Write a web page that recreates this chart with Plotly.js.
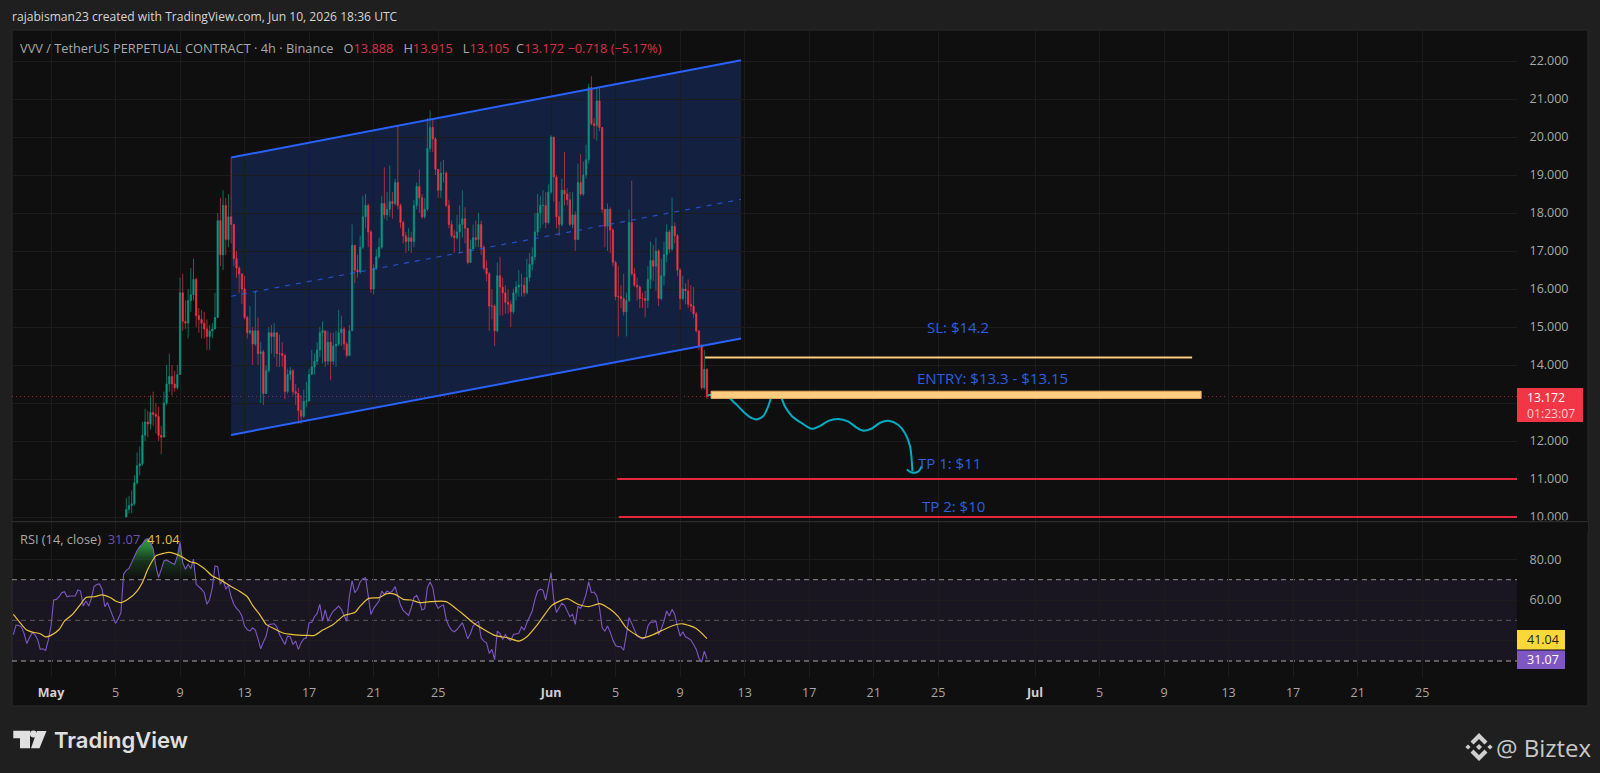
<!DOCTYPE html>
<html>
<head>
<meta charset="utf-8">
<script src="https://cdn.plot.ly/plotly-3.0.1.min.js"></script>
<style>html,body{margin:0;padding:0;background:#1f1f1f;overflow:hidden}#chart{width:1600px;height:773px}</style>
</head>
<body>
<div id="chart"></div>
<script>
// ---------- data ----------
const firstBarDay = 4 + 16/24;          // days after May 1, 2026 00:00 UTC
const firstOpen = 10.0;
const closes = [
10.2,10.3,10.35,10.9,11.35,11.4,12.15,12.5,12.45,12.75,
12.7,12.65,12.15,12.1,13.0,13.5,13.7,13.5,13.4,13.75,
15.9,15.15,15.1,15.7,15.85,16.25,15.3,15.2,15.1,14.95,
14.75,14.9,14.95,15.25,17.8,16.9,18.2,17.3,17.9,17.7,
16.8,16.55,16.4,16.0,15.25,14.85,14.9,14.55,14.9,14.3,
14.35,13.25,13.85,14.85,14.75,14.85,14.3,14.3,14.25,13.3,
13.75,13.85,13.3,13.25,12.8,12.65,13.05,13.05,13.75,13.95,
14.1,14.4,14.85,14.9,14.1,14.6,14.1,14.5,14.55,14.85,
14.95,14.55,14.25,14.9,17.15,16.5,16.45,17.1,17.9,18.2,
17.5,16.0,16.55,16.85,17.1,18.25,17.95,18.1,18.3,18.25,
18.8,18.2,17.75,17.4,17.25,17.35,17.25,18.2,18.7,18.4,
17.9,18.1,19.7,20.25,19.95,19.15,18.6,19.05,19.05,18.2,
17.7,17.4,17.35,17.5,17.7,17.85,17.6,16.7,17.05,17.35,
17.3,17.7,17.1,16.55,16.4,15.55,15.55,14.9,16.35,16.05,
15.9,15.65,15.6,15.4,15.9,16.05,16.1,16.1,15.9,16.3,
16.65,16.85,17.5,18.0,18.2,18.2,17.75,18.55,20.0,18.95,
17.9,17.7,18.6,18.5,18.35,17.7,17.95,17.3,18.8,18.5,
19.0,19.4,21.3,20.35,20.3,20.95,20.25,18.1,17.65,18.1,
17.55,16.7,15.8,15.8,15.75,15.4,15.7,17.75,16.4,16.1,
16.05,15.75,15.75,15.7,16.25,16.75,16.6,17.0,15.75,16.35,
16.9,17.5,17.05,17.65,17.4,16.5,15.75,16.0,15.95,15.6,
15.55,15.35,14.9,14.5,13.4,13.888,13.172];
const highs = [
10.5,10.55,10.7,11.1,11.7,11.85,12.5,12.85,12.8,13.2,
13.3,13.0,12.9,12.4,13.3,14.0,14.3,14.0,13.85,14.0,
16.3,16.4,15.7,16.0,16.55,16.8,16.3,15.5,15.45,15.4,
15.2,15.05,15.1,15.9,18.0,18.4,18.6,18.4,18.5,19.45,
17.7,17.0,16.6,16.4,16.35,15.3,15.55,15.0,15.95,15.25,
14.6,14.4,14.0,15.0,15.05,15.1,14.8,14.8,14.6,14.3,
13.9,13.95,13.9,13.5,13.4,13.2,13.35,13.55,13.9,14.4,
14.3,14.6,15.0,15.15,14.9,14.9,14.85,14.85,14.9,15.45,
15.3,15.0,14.6,15.05,17.7,17.15,16.9,17.4,18.45,18.5,
18.25,17.55,16.65,17.05,17.35,18.45,19.2,18.55,19.25,18.55,
18.9,20.3,18.25,17.8,17.5,17.6,17.5,18.35,18.8,19.15,
18.5,18.4,20.5,20.7,20.5,20.0,19.15,19.35,19.4,19.1,
18.35,17.8,17.55,17.95,18.2,18.6,18.15,17.6,17.3,17.7,
17.8,18.0,17.8,17.15,16.75,16.45,16.0,15.6,16.7,16.85,
16.3,16.1,16.0,15.7,16.0,16.2,16.5,16.4,16.3,16.8,
16.95,17.1,18.0,18.5,18.45,18.6,18.55,18.75,20.05,20.0,
19.0,18.3,18.9,19.6,18.65,18.55,18.55,18.05,19.3,19.55,
19.35,19.8,21.4,21.6,20.5,21.3,21.3,20.25,18.1,18.25,
18.15,17.6,16.75,16.6,16.1,16.4,15.9,18.1,18.85,16.55,
16.3,16.1,15.9,15.95,16.6,17.25,17.15,17.35,17.05,16.8,
17.25,17.7,17.55,18.4,17.75,17.45,16.55,16.35,16.15,16.25,
16.1,16.05,15.4,14.9,14.55,14.4,13.915];
const lows = [
10.0,10.1,10.1,10.3,10.85,11.1,11.35,12.0,12.1,12.3,
12.4,12.2,12.0,11.65,12.1,12.95,13.3,13.2,13.3,13.35,
13.75,14.9,14.95,14.7,15.4,15.7,15.0,14.85,14.7,14.7,
14.4,14.4,14.7,14.95,15.25,16.6,16.5,16.9,17.1,17.2,
16.6,16.3,15.9,15.6,15.2,14.7,14.8,14.0,14.5,14.0,
13.0,12.95,13.25,13.8,14.3,14.2,13.95,13.95,13.95,13.1,
13.25,13.6,13.2,12.95,12.45,12.45,12.6,12.9,13.05,13.75,
13.75,14.0,14.2,14.05,13.95,14.0,13.6,14.0,13.95,14.5,
14.5,14.4,14.2,14.25,14.9,16.15,16.3,16.4,17.05,17.6,
17.1,15.9,15.85,16.5,16.8,17.05,17.85,17.8,17.9,17.85,
18.2,18.1,17.6,17.2,16.95,17.0,16.95,17.1,18.1,18.0,
17.85,17.85,18.05,19.6,19.6,19.0,18.4,18.4,18.8,18.15,
17.6,17.35,16.95,17.3,16.95,17.35,17.2,16.65,16.7,17.05,
17.1,17.1,16.9,16.5,16.2,14.9,15.2,14.5,14.85,15.3,
15.3,15.35,15.35,15.0,15.35,15.7,15.8,15.8,15.8,15.85,
16.2,16.5,16.75,17.4,17.6,17.7,17.6,17.7,18.5,18.3,
17.6,17.4,17.65,18.2,18.2,17.65,17.6,17.0,17.3,18.45,
18.45,18.9,19.3,20.3,19.95,19.9,20.15,18.0,17.1,17.0,
16.95,16.6,15.7,14.75,15.5,15.3,14.75,15.65,16.35,16.05,
15.7,15.5,15.5,15.25,15.5,16.0,16.2,15.95,15.55,15.7,
16.1,16.7,16.95,17.0,17.2,16.35,15.45,15.7,15.6,15.5,
15.4,15.25,14.85,14.4,13.35,13.35,13.105];

const rsiFirstDay = -2 - 8/24;   // Apr 28 16:00
const rsiValues = [
43,47.7,47.5,46.8,43.5,38.6,41.4,43.9,43,40.6,
35.7,36,35.2,40.3,47.2,60,60.3,61.6,63.6,64.1,
61.6,62,62,62,64.9,64.4,57,59.5,57,60.7,
66.6,67.6,67.9,65.3,56.7,58.7,55.4,51.8,48.5,50.8,
53.8,72.7,74.6,75.5,78.4,81.7,84.2,86.3,87.5,89.6,
90.3,88.3,85.3,76.8,71,75.1,79.2,79.7,78.7,78.1,
77.6,81.7,88.3,78.4,75.1,77.6,75.5,80.1,67.7,66.6,
65.3,63.6,57.9,60.3,66.1,76.8,76.4,67.7,70.2,65.3,
67.2,61.6,57.9,55.9,54.6,52.1,47.2,45.5,44.7,46.3,
45.2,40.9,36,39.3,42.2,48,48,48.3,46.8,43,
40.6,38.1,42.2,41.9,38.1,39.8,35.7,38.9,40.9,41.4,
48.8,49.1,51.8,53.4,57.9,49.6,55.1,49.6,52.4,54.6,
55.7,57,55.4,52.4,49.6,62,69.4,63.6,65.3,68.9,
70.5,71,62,52.9,55.9,57.9,59.5,64.4,62.8,64.4,
63.6,64.4,66.6,62,57.5,54.9,53.4,52.4,56.2,61.2,
62.3,59.5,55.1,55.7,66.1,68.9,66.1,58.4,55.9,57,
57.5,50.5,47.2,45.2,44.4,45.5,47.2,48.8,45.2,40.9,
43.5,47.2,48.5,49.6,41.4,39.8,38.9,33.7,35.7,30.7,
44.7,43.5,40.6,43,40.9,40.1,43,43.4,43.6,46.8,
45.2,48.8,52.1,54.6,60.3,64.4,65.3,64.8,60,67.7,
73.5,60.3,53.8,56.2,58.4,57.4,54.6,51.8,52.9,48,
57,55.9,58.7,62.8,68.9,63.6,63.9,62,56.2,46.3,
44.7,47.2,44.2,40.3,37.6,37,37,35.3,43,51.3,
48.5,45.2,42.2,41.4,40.9,41.4,47.2,49.1,49.1,49.6,
43,45.9,49.6,54.6,52.1,55.4,52.9,47.2,42.2,44.4,
41.9,41.2,40.3,38.1,35.7,31.5,29.4,34.8,31.07];

// RSI moving average: bar position in the RSI list and value read at it
const rsiMaBars = [0,3,5,7,10,12,14,17,19,22,25,27,30,33,36,38,40,43,46,48,50,53,56,58,62,66,68,71,74,77,81,84,87,89,92,94,97,100,104,109,112,115,119,123,127,129,132,136,139,142,145,148,151,155,161,165,167,171,174,179,184,188,191,195,200,202,206,210,214,218,222,225,228,232,234,238,242,246,249,254,258];
const rsiMaValues = [52.9,48,45.2,44.2,43.4,41.9,42.6,45.5,49.6,52.9,57.9,61.2,61.6,62.5,61.2,59.5,58.7,60.7,64.4,68.6,75.1,81.7,83,83.4,81.7,78.7,78.1,75.5,71.8,69.9,66.6,64.4,61.6,57.4,52.1,48,45.9,43.9,43,42.6,42.6,45.2,48,52.4,53.8,57,60.7,61.2,63.1,62.8,60.3,60,58.7,59.2,59.2,55.4,53.4,48.8,46.3,42.6,41.4,39.8,41.9,48,57,58.7,60.7,57.9,56.7,58.2,55.4,51.8,46.3,42.6,41.4,43,45.5,47.7,48.3,46,41.04];

const priceTicks = [10,11,12,13,14,15,16,17,18,19,20,21,22];
const rsiTicks = [40,60,80];
const rsiTickText = ['','60.00','80.00'];
const xTickDays = [0,4,8,12,16,20,24,31,35,39,43,47,51,55,61,65,69,73,77,81,85];
const xTickLabels = ['May','5','9','13','17','21','25','Jun','5','9','13','17','21','25','Jul','5','9','13','17','21','25'];

const channelDays  = [11.167, 42.78];
const channelUpper = [19.46, 22.02];
const channelMid   = [15.81, 18.36];
const channelLower = [12.16, 14.70];

const slPrice = 14.2,  slDays = [40.55, 70.74];
const entryTop = 13.31, entryBottom = 13.12, entryDays = [40.92, 71.3];
const tp1Price = 11, tp1Days = [35.1, 90.88];
const tp2Price = 10, tp2Days = [35.2, 90.88];
const lastPrice = 13.172;

const pathADays  = [42.1,42.51,43.03,43.44,43.79,44.16,44.41,44.62];
const pathAPrice = [13.12,12.95,12.73,12.6,12.57,12.66,12.86,13.12];
const pathBDays  = [45.3,45.51,45.92,46.54,47.16,47.68,48.19,48.81,49.43,49.95,50.36,50.88,51.4,51.91,52.53,52.95,53.26,53.4];
const pathBPrice = [13.12,12.9,12.66,12.47,12.32,12.4,12.53,12.58,12.51,12.35,12.27,12.33,12.48,12.53,12.42,12.2,11.85,11.2];
const hookDays   = [53.05,53.36,53.77,53.98];
const hookPrice  = [11.25,11.17,11.2,11.34];
const stubDays   = [40.73,40.98];
const stubPrice  = [13.21,13.21];

// ---------- helpers ----------
const W = 1600, H = 773;
const dateOf = d => new Date(Date.UTC(2026,4,1) + d*864e5).toISOString().slice(0,19).replace('T',' ');
const fx = x => x/W, fy = y => 1 - y/H;
const opens = [firstOpen].concat(closes.slice(0,-1));
const barDates = closes.map((c,i)=>dateOf(firstBarDay + i/6));
const rsiDates = rsiValues.map((v,i)=>dateOf(rsiFirstDay + i/6));
const hi = highs.map((h,i)=>Math.max(h,opens[i],closes[i]));
const lo = lows.map((l,i)=>Math.min(l,opens[i],closes[i]));

const UP='#089981', DOWN='#f23645', BLUE='#2a5fe0', LINEBLUE='#2962ff', TEAL='#00acc1', ORANGE='#ffcc80', PURPLE='#7e57c2', YEL='#e8c23c';
const FONT='"Open Sans", "Noto Sans", sans-serif';
const plain=(x,y,color,width,extra)=>({type:'scatter',mode:'lines',x,y,hoverinfo:'skip',showlegend:false,line:Object.assign({color,width},extra||{})});

// ---------- traces ----------
const overStart=40, overEnd=69;
const overDates=rsiDates.slice(overStart,overEnd);
const traces=[
 {type:'candlestick',x:barDates,open:opens,high:hi,low:lo,close:closes,width:10200000,whiskerwidth:0,hoverinfo:'skip',showlegend:false,
  increasing:{line:{color:'rgba(8,153,129,0.7)',width:1},fillcolor:UP},
  decreasing:{line:{color:'rgba(242,54,69,0.65)',width:1},fillcolor:DOWN}},
 plain(channelDays.map(dateOf),channelMid,'rgba(41,98,255,0.7)',1.2,{dash:'5px,6px'}),
 plain(channelDays.map(dateOf),channelUpper,LINEBLUE,2),
 plain(channelDays.map(dateOf),channelLower,LINEBLUE,2),
 plain(slDays.map(dateOf),[slPrice,slPrice],ORANGE,2),
 plain(tp1Days.map(dateOf),[tp1Price,tp1Price],'#e5273c',2),
 plain(tp2Days.map(dateOf),[tp2Price,tp2Price],'#e5273c',2),
 plain(stubDays.map(dateOf),stubPrice,TEAL,2),
 plain(pathADays.map(dateOf),pathAPrice,TEAL,2,{shape:'spline',smoothing:0.8}),
 plain(pathBDays.map(dateOf),pathBPrice,TEAL,2,{shape:'spline',smoothing:0.8}),
 plain(hookDays.map(dateOf),hookPrice,TEAL,2,{shape:'spline',smoothing:0.8}),
 // RSI pane
 Object.assign(plain(overDates,overDates.map(()=>70),'rgba(0,0,0,0)',0),{yaxis:'y2'}),
 Object.assign(plain(overDates,rsiValues.slice(overStart,overEnd).map(v=>Math.max(v,70)),'rgba(0,0,0,0)',0),{yaxis:'y2',fill:'tonexty',
   fillgradient:{type:'vertical',start:70,stop:90,colorscale:[[0,'rgba(40,140,60,0)'],[0.45,'rgba(40,140,60,0.28)'],[0.8,'rgba(45,150,65,0.85)'],[1,'rgba(45,150,65,1)']]}}),
 Object.assign(plain(rsiDates,rsiValues,PURPLE,1.1),{yaxis:'y2'}),
 Object.assign(plain(rsiMaBars.map(b=>rsiDates[b]),rsiMaValues,YEL,1.2,{shape:'spline',smoothing:0.6}),{yaxis:'y2'})
];

// ---------- shapes ----------
const dU=channelDays.map(d=>dateOf(d).replace(' ','_'));
const paperRect=(x0,y0,x1,y1,fill,layer,line)=>({type:'rect',xref:'paper',yref:'paper',x0:fx(x0),x1:fx(x1),y0:fy(y1),y1:fy(y0),fillcolor:fill,layer:layer||'below',line:line||{width:0}});
const poly=(pts,fill,layer)=>({type:'path',xref:'paper',yref:'paper',path:'M'+pts.map(p=>fx(p[0])+','+fy(p[1])).join('L')+'Z',fillcolor:fill,layer:layer||'above',line:{width:0}});
const cx=1479, cy=747, G='#cfcfcf';
const off=(pts,dx,dy)=>pts.map(p=>[p[0]+dx,p[1]+dy]);
const chevT=[[0,-14],[8.5,-5.5],[5.5,-2.5],[0,-8],[-5.5,-2.5],[-8.5,-5.5]];
const chevB=chevT.map(p=>[p[0],-p[1]]);
const dia=r=>[[0,-r],[r,0],[0,r],[-r,0]];
const shapes=[
 paperRect(12,30,1588,706,'#0f0f0f','below',{color:'#2a2a2a',width:1}),
 {type:'path',xref:'x',yref:'y',layer:'below',line:{width:0},fillcolor:'rgba(41,98,255,0.2)',
  path:`M${dU[0]},${channelLower[0]}L${dU[1]},${channelLower[1]}L${dU[1]},${channelUpper[1]}L${dU[0]},${channelUpper[0]}Z`},
 {type:'line',xref:'paper',yref:'y',x0:fx(12),x1:fx(1517),y0:lastPrice,y1:lastPrice,layer:'below',line:{color:'rgba(242,54,69,0.6)',width:1,dash:'1px,3px'}},
 {type:'rect',xref:'x',yref:'y',x0:dateOf(entryDays[0]),x1:dateOf(entryDays[1]),y0:entryBottom,y1:entryTop,fillcolor:ORANGE,layer:'above',line:{color:'#e0a960',width:1}},
 // RSI band
 {type:'rect',xref:'paper',yref:'y2',x0:fx(12),x1:fx(1517),y0:30,y1:70,fillcolor:'rgba(126,87,194,0.1)',layer:'below',line:{width:0}},
 {type:'line',xref:'paper',yref:'y2',x0:fx(12),x1:fx(1517),y0:70,y1:70,layer:'below',line:{color:'#8f8f8f',width:1,dash:'5px,4px'}},
 {type:'line',xref:'paper',yref:'y2',x0:fx(12),x1:fx(1517),y0:50,y1:50,layer:'below',line:{color:'#5a5a5a',width:1,dash:'5px,4px'}},
 {type:'line',xref:'paper',yref:'y2',x0:fx(12),x1:fx(1517),y0:30,y1:30,layer:'below',line:{color:'#a8a8a8',width:1,dash:'5px,4px'}},
 // pane separator + clip of the 10.000 label
 paperRect(1517,520.2,1588,531,'#0f0f0f','above'),
 {type:'line',xref:'paper',yref:'paper',x0:fx(12),x1:fx(1588),y0:fy(521.7),y1:fy(521.7),layer:'above',line:{color:'#333333',width:1}},
 // axis tags
 paperRect(1517,388,1583,422,DOWN,'above'),
 paperRect(1517,630,1565,649.5,'#fbd83a','above'),
 paperRect(1517,650.5,1565,669,PURPLE,'above'),
 // TradingView mark
 poly([[13.3,730.7],[30,730.7],[30,748.3],[20,748.3],[20,738.3],[13.3,738.3]],'#e0e0e0'),
 {type:'circle',xref:'paper',yref:'paper',x0:fx(30),x1:fx(36.8),y0:fy(737.4),y1:fy(730.6),fillcolor:'#e0e0e0',layer:'above',line:{width:0}},
 poly([[37,731],[46.5,731],[39.5,748.3],[31,748.3]],'#e0e0e0'),
 // exchange mark
 poly(off(chevT,cx,cy),G),poly(off(chevB,cx,cy),G),poly(off(dia(3),cx,cy),G),
 poly(off(dia(2.6),cx-11,cy),G),poly(off(dia(2.6),cx+11,cy),G)
];

// ---------- text ----------
const note=(text,x,y,size,color,anchor,extra)=>Object.assign({text,xref:'paper',yref:'paper',x:fx(x),y:fy(y),xanchor:anchor||'left',yanchor:'middle',showarrow:false,align:'left',font:{family:FONT,size,color}},extra||{});
const label=(text,day,price)=>({text,xref:'x',yref:'y',x:dateOf(day),y:price,showarrow:false,xanchor:'center',yanchor:'middle',font:{family:FONT,size:15,color:BLUE}});
const r=s=>`<span style="color:#d8324a">${s}</span>`;
const G2='&#160;';
const annotations=[
 note('rajabisman23 created with TradingView.com, Jun 10, 2026 18:36 UTC',10,17,12.1,'#d4d4d4',undefined,{font:{family:FONT,size:12.1,color:'#d4d4d4',weight:500}}),
 note(`VVV / TetherUS PERPETUAL CONTRACT · 4h · Binance${G2}${G2}${G2}O${r('13.888')}${G2}${G2}${G2}H${r('13.915')}${G2}${G2}${G2}L${r('13.105')}${G2}${G2}C${r('13.172')}${G2}${r('−0.718 (−5.17%)')}`,18,47.5,12.8,'#a8a8a8'),
 note(`RSI (14, close)${G2}${G2}<span style="color:#6f52ad">31.07</span>${G2}${G2}<span style="color:#e8c23c">41.04</span>`,18,539,12.8,'#a8a8a8'),
 note(`13.172<br><span style="color:#ffc9cf">01:23:07</span>`,1525,405,12.2,'#ffffff'),
 note('41.04',1525,639.5,12.5,'#222222'),
 note('31.07',1525,659.5,12.5,'#ffffff'),
 note('TradingView',52,739.5,22,'#e0e0e0','left',{font:{family:'Inter, "Open Sans", sans-serif',size:22,color:'#e0e0e0',weight:600}}),
 note('@ Biztex',1594,747,24,'#c8c8c8','right'),
 label('SL: $14.2',56.23,15.0),
 label('ENTRY: $13.3 - $13.15',58.34,13.66),
 label('TP 1: $11',55.73,11.42),
 label('TP 2: $10',55.95,10.29)
];

// ---------- layout ----------
const GRID='#1c1c1c';
const layout={
 width:W,height:H,margin:{l:0,r:0,t:0,b:0},showlegend:false,
 paper_bgcolor:'#1f1f1f',plot_bgcolor:'rgba(0,0,0,0)',
 font:{family:FONT,size:12.5,color:'#a8a8a8'},
 hovermode:false,dragmode:false,
 xaxis:{type:'date',domain:[fx(12),fx(1517)],anchor:'y2',range:[dateOf(-2.418),dateOf(90.88)],
   rangeslider:{visible:false},showline:false,zeroline:false,showgrid:true,gridcolor:GRID,gridwidth:1,
   tickmode:'array',tickvals:xTickDays.map(dateOf),
   ticktext:xTickLabels.map(t=>/[A-Z]/.test(t)?`<b style="color:#d0d0d0">${t}</b>`:t),
   ticks:'outside',ticklen:4,tickcolor:'rgba(0,0,0,0)',tickfont:{family:FONT,size:12.5,color:'#a8a8a8'}},
 yaxis:{domain:[fy(521.5),fy(30)],anchor:'x',side:'right',range:[9.882,22.816],fixedrange:true,showgrid:true,gridcolor:GRID,zeroline:false,showline:false,
   tickmode:'array',tickvals:priceTicks,ticktext:priceTicks.map(v=>v.toFixed(3)),ticks:'outside',ticklen:9,tickcolor:'rgba(0,0,0,0)',tickfont:{family:FONT,size:12.5,color:'#a8a8a8'}},
 yaxis2:{domain:[fy(677),fy(522)],anchor:'x',side:'right',range:[22.13,98.37],fixedrange:true,showgrid:true,gridcolor:GRID,zeroline:false,showline:false,
   tickmode:'array',tickvals:rsiTicks,ticktext:rsiTickText,ticks:'outside',ticklen:9,tickcolor:'rgba(0,0,0,0)',tickfont:{family:FONT,size:12.5,color:'#a8a8a8'}},
 shapes,annotations
};
Plotly.newPlot('chart',traces,layout,{displayModeBar:false,staticPlot:true});
</script>
</body>
</html>
